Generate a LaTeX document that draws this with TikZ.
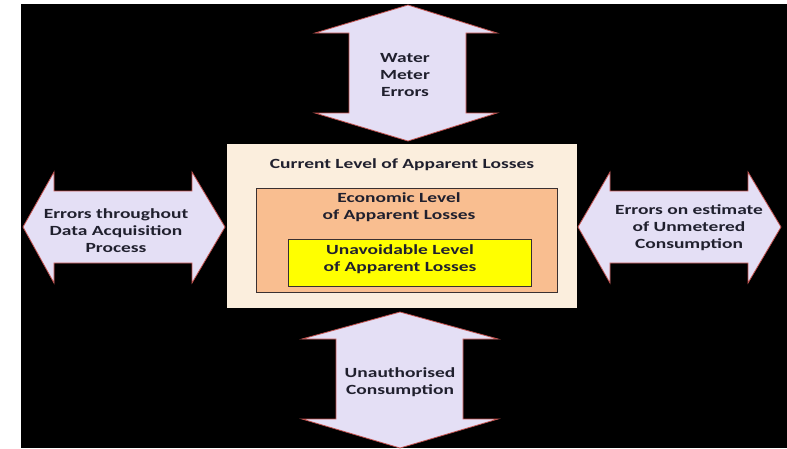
\documentclass[tikz,border=0pt]{standalone}
\usepackage{graphicx}
\usepackage{fontspec}
\setmainfont{Carlito}
\definecolor{arrowfill}{HTML}{E4DFF5}
\definecolor{arrowedge}{HTML}{C0504D}
\definecolor{beige}{HTML}{FBEEDD}
\definecolor{peach}{HTML}{F9BE90}
\definecolor{brightyellow}{HTML}{FFFF00}
\definecolor{boxedge}{HTML}{3A3030}
\definecolor{inkcol}{HTML}{20202E}
% wide bold lettering, stretched horizontally
\newcommand\widetext[1]{\scalebox{1.39}[1]{\begin{tabular}{@{}c@{}}#1\end{tabular}}}
\begin{document}
\begin{tikzpicture}[x=1pt,y=-1pt,
  arrowshape/.style={fill=arrowfill,draw=arrowedge,line width=0.8pt,line join=miter},
  levelbox/.style={draw=boxedge,line width=1pt},
  label/.style={font=\bfseries\fontsize{14}{17}\selectfont,text=inkcol,align=center,inner sep=0pt}]
  % canvas
  \useasboundingbox (0,0) rectangle (787,448);
  \fill[white] (0,0) rectangle (787,448);
  \fill[black] (21,4) rectangle (787,448);

  % top double arrow
  \draw[arrowshape] (408,5) -- (497,33) -- (466,33) -- (466,113) -- (497,113)
    -- (408,141) -- (315,113) -- (349,113) -- (349,33) -- (315,33) -- cycle;
  \node[label] (water) at (405,76.5) {\widetext{Water\\Meter\\Errors}};

  % bottom double arrow
  \draw[arrowshape] (400,312) -- (498,339) -- (463,339) -- (463,419) -- (498,419)
    -- (400,448) -- (302,419) -- (336,419) -- (336,339) -- (302,339) -- cycle;
  \node[label] (unauth) at (400,382.5) {\widetext{Unauthorised\\Consumption}};

  % left double arrow
  \draw[arrowshape] (23,227) -- (54,172) -- (54,191) -- (192,191) -- (192,172)
    -- (225,227) -- (192,283) -- (192,263) -- (54,263) -- (54,283) -- cycle;
  \node[label] (acq) at (116,232.5) {\widetext{Errors throughout\\Data Acquisition\\Process}};

  % right double arrow
  \draw[arrowshape] (578,227) -- (610,172) -- (610,191) -- (748,191) -- (748,172)
    -- (781,227) -- (748,283) -- (748,263) -- (610,263) -- (610,283) -- cycle;
  \node[label] (unmet) at (689,228.5) {\widetext{Errors on estimate\\of Unmetered\\Consumption}};

  % nested levels of apparent losses
  \fill[beige] (227,144) rectangle (577,308);
  \node[label] (current) at (402,165) {\widetext{Current Level of Apparent Losses}};
  \draw[levelbox,fill=peach] (256,188) rectangle (557,292);
  \node[label] (economic) at (399,208) {\widetext{Economic Level\\of Apparent Losses}};
  \draw[levelbox,fill=brightyellow] (288,239) rectangle (531,286);
  \node[label] (unavoid) at (400,260) {\widetext{Unavoidable Level\\of Apparent Losses}};
\end{tikzpicture}
\end{document}
